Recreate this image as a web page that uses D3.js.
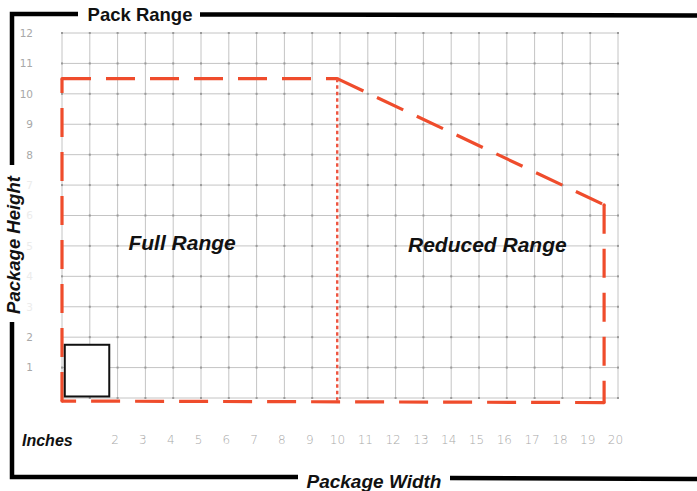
<!DOCTYPE html>
<html><head><meta charset="utf-8">
<script src="https://cdn.jsdelivr.net/npm/d3@7"></script>
<style>body{margin:0;background:#fff}svg{display:block}</style>
</head><body>
<svg id="c" width="697" height="491"></svg>
<script>
// ---- data ----
const xTickLabels = [2,3,4,5,6,7,8,9,10,11,12,13,14,15,16,17,18,19,20];
const yTickLabels = [1,2,3,4,5,6,7,8,9,10,11,12];
const yFaintLabels = [3,4,5,6,7];
const xGrid = d3.range(0,21);
const yGrid = d3.range(0,13);
// pack range outline (inches): width, height
const outlineX = [0, 0, 9.9, 19.5, 19.5, 0];
const outlineY = [-0.1, 10.5, 10.5, 6.35, -0.15, -0.1];
// divider between full and reduced range
const dividerX = 9.9;
const dividerY = [10.5, -0.1];
// sample package box
const boxX = [0.1, 1.7];
const boxY = [0.05, 1.75];
const regionLabels = ["Full Range", "Reduced Range"];
const regionX = [4.32, 15.3];
const regionY = [4.88, 4.8];

// ---- drawing ----
const svg = d3.select("#c");
const x = d3.scaleLinear().domain([0,20]).range([62,618]);
const y = d3.scaleLinear().domain([0,12]).range([398,33]);

const red = "#ef4c2c";
const bold = "Liberation Sans, Arial, sans-serif";

// grid
const g = svg.append("g");
g.selectAll("line.v").data(xGrid).join("line")
  .attr("x1", d=>x(d)).attr("x2", d=>x(d)).attr("y1", y(12)).attr("y2", y(0))
  .attr("stroke", "#c4c4c4").attr("stroke-width", 1);
g.selectAll("line.h").data(yGrid).join("line")
  .attr("y1", d=>y(d)).attr("y2", d=>y(d)).attr("x1", x(0)).attr("x2", x(20))
  .attr("stroke", "#c4c4c4").attr("stroke-width", 1);
// small dots at intersections
const pts = [];
xGrid.forEach(a=>yGrid.forEach(b=>pts.push([a,b])));
g.selectAll("rect.dot").data(pts).join("rect")
  .attr("x", d=>x(d[0])-1).attr("y", d=>y(d[1])-1).attr("width",2).attr("height",2)
  .attr("fill","#9a9a9a");

// axes labels
const xAxis = d3.axisBottom(x).tickValues(xTickLabels).tickSize(0).tickPadding(0).tickFormat(d3.format("d"));
const xa = svg.append("g").attr("transform", "translate(-3,435)").call(xAxis);
xa.select(".domain").remove();
xa.selectAll("text").attr("fill","#a8a8a8").attr("font-family","DejaVu Sans, sans-serif")
  .attr("font-weight","300").attr("font-size",12);

const yAxis = d3.axisLeft(y).tickValues(yTickLabels).tickSize(0).tickPadding(0).tickFormat(d3.format("d"));
const ya = svg.append("g").attr("transform", "translate(33,0)").call(yAxis);
ya.select(".domain").remove();
ya.selectAll("text").attr("fill", d => yFaintLabels.includes(d) ? "#ececec" : "#a8a8a8")
  .attr("font-family","DejaVu Sans, sans-serif").attr("font-size",10.5);

// outline segments
const segs = outlineX.slice(0,-1).map((v,i)=>[[v,outlineY[i]],[outlineX[i+1],outlineY[i+1]]]);
svg.selectAll("line.seg").data(segs).join("line")
  .attr("x1", d=>x(d[0][0])).attr("y1", d=>y(d[0][1]))
  .attr("x2", d=>x(d[1][0])).attr("y2", d=>y(d[1][1]))
  .attr("stroke", red).attr("stroke-width", 3.2).attr("stroke-dasharray","29,15");
// corner caps
svg.selectAll("circle.c").data(outlineX.slice(0,-1).map((v,i)=>[v,outlineY[i]])).join("circle")
  .attr("cx", d=>x(d[0])).attr("cy", d=>y(d[1])).attr("r",1.6).attr("fill",red);

// divider
svg.append("line").attr("x1", x(dividerX)).attr("x2", x(dividerX))
  .attr("y1", y(dividerY[0])).attr("y2", y(dividerY[1]))
  .attr("stroke", "#ee5540").attr("stroke-width", 2.4).attr("stroke-dasharray","3.5,3");

// box
svg.append("rect").attr("x", x(boxX[0])).attr("y", y(boxY[1]))
  .attr("width", x(boxX[1])-x(boxX[0])).attr("height", y(boxY[0])-y(boxY[1]))
  .attr("fill","#fff").attr("stroke","#111").attr("stroke-width",2);

// region labels
svg.selectAll("text.reg").data(regionLabels).join("text")
  .attr("x",(d,i)=>x(regionX[i])).attr("y",(d,i)=>y(regionY[i]))
  .attr("text-anchor","middle").attr("font-family",bold).attr("font-weight","bold")
  .attr("font-style","italic").attr("font-size",21).attr("fill","#111").text(d=>d);

// frame
const fr = svg.append("g").attr("stroke","#000").attr("stroke-width",4.5).attr("fill","none");
fr.append("path").attr("d","M12,165 L12,14 L78,14");
fr.append("line").attr("x1",200).attr("y1",14.5).attr("x2",697).attr("y2",15.5);
fr.append("path").attr("d","M12,322 L12,477 L298,477");
fr.append("line").attr("x1",450).attr("y1",478).attr("x2",697).attr("y2",479);

svg.append("text").attr("x",140).attr("y",21).attr("text-anchor","middle")
  .attr("font-family",bold).attr("font-weight","bold").attr("font-size",18.5).attr("fill","#111").text("Pack Range");
svg.append("text").attr("transform","translate(20,245) rotate(-90)").attr("text-anchor","middle")
  .attr("font-family",bold).attr("font-weight","bold").attr("font-style","italic")
  .attr("font-size",18.5).attr("fill","#111").text("Package Height");
svg.append("text").attr("x",374).attr("y",488).attr("text-anchor","middle")
  .attr("font-family",bold).attr("font-weight","bold").attr("font-style","italic")
  .attr("font-size",19).attr("fill","#111").text("Package Width");
svg.append("text").attr("x",22).attr("y",446)
  .attr("font-family",bold).attr("font-weight","bold").attr("font-style","italic")
  .attr("font-size",16).attr("fill","#111").text("Inches");
</script>
</body></html>
